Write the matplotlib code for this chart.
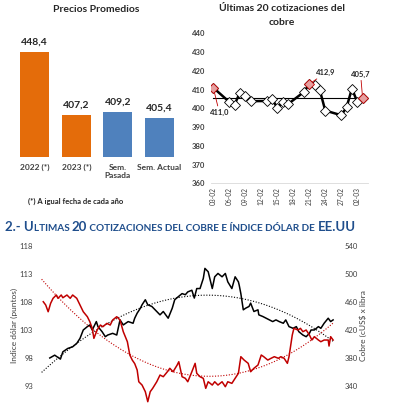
import numpy as np
import pandas as pd
import matplotlib
matplotlib.use('Agg')
import matplotlib.pyplot as plt
import matplotlib.dates as mdates

plt.rcParams['font.family'] = ['Lato', 'DejaVu Sans']

# --- Precios promedios (barras) ---
cat_barras = ['2022 (*)', '2023 (*)', 'Sem.\nPasada', 'Sem. Actual']
val_barras = [448.4, 407.2, 409.2, 405.4]
col_barras = ['#E46C0A', '#E46C0A', '#4F81BD', '#4F81BD']

# --- Últimas cotizaciones (2023) ---
fechas_cot = ['2023-02-03', '2023-02-06', '2023-02-07', '2023-02-08', '2023-02-09',
              '2023-02-10', '2023-02-13', '2023-02-14', '2023-02-15', '2023-02-16',
              '2023-02-17', '2023-02-20', '2023-02-21', '2023-02-22', '2023-02-23',
              '2023-02-24', '2023-02-27', '2023-02-28', '2023-03-01', '2023-03-02',
              '2023-03-03']
val_cot = [411.0, 403.4, 402.0, 408.4, 406.4, 403.8, 403.9, 405.2, 400.2, 403.1,
           402.2, 408.7, 412.9, 412.5, 409.5, 398.8, 396.3, 400.5, 410.5, 403.5,
           405.7]
promedio_cot = 405.6
marcados = [0, 12, 20]  # primero, máximo, último
ticks_cot = ['2023-02-03', '2023-02-06', '2023-02-09', '2023-02-12', '2023-02-15',
             '2023-02-18', '2023-02-21', '2023-02-24', '2023-02-27', '2023-03-02']

# --- Cobre e índice dólar (día desde inicio) ---
dia_dolar = [12, 18, 25, 28, 34, 40, 45, 49, 53, 58, 61, 64, 69, 71, 76, 80, 83, 89, 94,
             98, 102, 108, 114, 116, 119, 123, 125, 129, 132, 137, 143, 147, 151, 157,
             162, 165, 169, 174, 178, 181, 186, 189, 192, 196, 200, 202, 206, 211, 214,
             218, 223, 227, 230, 235, 239, 243, 244, 246, 249, 252, 256, 258, 262, 267,
             268, 273, 277, 281, 285, 289, 293, 298, 301, 305, 310, 314, 317, 322, 326,
             330, 332, 336, 341, 344, 348, 353, 356, 359]
dolar = [98.0, 98.5, 97.8, 99.1, 99.7, 100.0, 100.6, 101.5, 103.0, 103.6, 103.9, 103.0,
         104.5, 103.6, 102.7, 101.8, 102.1, 102.4, 102.1, 104.8, 103.9, 104.5, 104.2,
         105.1, 106.0, 106.9, 107.5, 108.4, 107.5, 107.2, 106.3, 105.7, 106.3, 105.1,
         106.9, 108.4, 108.9, 109.5, 109.3, 109.8, 110.1, 108.7, 110.4, 110.4, 112.2,
         114.0, 113.4, 110.4, 112.5, 113.1, 112.5, 113.1, 111.6, 110.4, 112.5, 111.6,
         111.0, 109.5, 106.6, 106.9, 107.2, 107.8, 106.3, 106.6, 105.7, 105.4, 105.1,
         104.8, 104.5, 104.8, 104.5, 104.2, 104.8, 103.6, 103.3, 103.6, 102.7, 102.1,
         101.8, 102.4, 103.0, 103.0, 103.6, 103.3, 104.2, 105.1, 104.5, 104.8]

dia_cobre = [4, 7, 10, 13, 16, 20, 22, 26, 28, 33, 37, 40, 45, 49, 53, 58, 61, 64, 66,
             70, 74, 77, 82, 86, 89, 94, 98, 102, 107, 110, 113, 116, 119, 121, 125, 129,
             132, 135, 138, 143, 147, 151, 156, 159, 163, 168, 170, 174, 178, 181, 186,
             190, 192, 196, 200, 203, 206, 211, 214, 218, 223, 227, 230, 235, 239, 243,
             246, 250, 255, 258, 262, 267, 271, 274, 279, 283, 287, 292, 295, 299, 303,
             305, 309, 311, 316, 319, 322, 326, 330, 333, 336, 341, 344, 348, 353, 354,
             356, 359]
cobre = [460.4, 455.7, 446.1, 458.1, 465.3, 470.0, 465.3, 470.0, 466.1, 470.0, 465.3,
         470.0, 465.3, 455.7, 446.1, 439.0, 431.9, 422.4, 408.1, 420.0, 427.1, 424.7,
         429.5, 427.1, 434.3, 439.0, 434.3, 417.6, 403.3, 384.3, 377.1, 372.0, 362.9,
         346.1, 341.4, 331.9, 317.6, 331.9, 336.7, 346.1, 355.7, 353.3, 360.4, 365.3,
         360.4, 370.0, 374.7, 353.3, 351.0, 346.1, 360.4, 372.4, 358.1, 353.3, 351.0,
         336.7, 346.1, 341.4, 346.1, 341.4, 346.1, 339.0, 346.1, 343.8, 351.0, 358.1,
         381.9, 377.1, 372.4, 360.4, 365.3, 370.0, 384.3, 381.9, 377.1, 379.6, 381.9,
         379.6, 381.9, 379.6, 372.4, 381.9, 412.9, 422.4, 420.0, 422.4, 417.6, 420.0,
         412.9, 405.7, 410.5, 405.7, 403.3, 405.7, 405.7, 397.1, 410.5, 405.7]

W, H = 396, 405
fig = plt.figure(figsize=(W / 100, H / 100), dpi=100)


def caja(x0, y0, x1, y1):
    # pixeles (origen arriba-izquierda) -> fracción de figura
    return [x0 / W, 1 - y1 / H, (x1 - x0) / W, (y1 - y0) / H]


gris = '#404040'
oscuro = '#262626'

# ---------------- barras ----------------
ax1 = fig.add_axes(caja(14, 40, 180, 157))
xb = np.arange(len(cat_barras))
ax1.bar(xb, [v - 380 for v in val_barras], bottom=380, width=0.7, color=col_barras)
for x, v in zip(xb, val_barras):
    ax1.text(x, v + 3.5, f'{v:.1f}'.replace('.', ','), ha='center', va='bottom',
             fontsize=7.5, fontweight='bold', color=oscuro)
ax1.set_xlim(-0.5, 3.5)
ax1.set_ylim(380, 456.5)
ax1.set_xticks(xb)
ax1.set_xticklabels(cat_barras, fontsize=6, fontweight='bold', color=gris)
ax1.tick_params(axis='x', length=0, pad=5)
ax1.set_yticks([])
for s in ax1.spines.values():
    s.set_visible(False)
ax1.axhline(380, color='#D9D9D9', lw=0.6)
fig.text(96 / W, 1 - 5 / H, 'Precios Promedios', ha='center', va='top',
         fontsize=7.5, fontweight='bold', color=oscuro)
fig.text(28 / W, 1 - 201 / H, '(*) A igual fecha de cada año', ha='left', va='center',
         fontsize=5.5, fontweight='bold', color=oscuro)

# ---------------- últimas cotizaciones ----------------
fch = pd.to_datetime(fechas_cot)
ax2 = fig.add_axes(caja(210.6, 33.3, 367.9, 183.3))
ax2.plot(fch, val_cot, color='black', lw=1.8, zorder=2)
ax2.plot([fch[0], fch[-1]], [promedio_cot, promedio_cot], color='black', lw=0.8, zorder=1)
ax2.plot(fch, val_cot, ls='none', marker='D', ms=4.8, mfc='white', mec='black', mew=0.6,
         zorder=3)
ax2.plot(fch[marcados], [val_cot[i] for i in marcados], ls='none', marker='D', ms=4.8,
         mfc='#E6A0A0', mec='#C00000', mew=0.6, zorder=4)
rojo_lbl = '#C00000'
flecha = dict(arrowstyle='-', color=rojo_lbl, lw=0.6, shrinkA=0, shrinkB=0)
ax2.annotate('411,0', xy=(fch[0], val_cot[0]), xytext=(6, -21), textcoords='offset pixels',
             fontsize=5.5, fontweight='bold', color=oscuro, ha='center', va='top',
             arrowprops=flecha)
ax2.annotate('412,9', xy=(fch[12], val_cot[12]), xytext=(7, 8), textcoords='offset pixels',
             fontsize=5.5, fontweight='bold', color=oscuro, ha='left', va='bottom',
             arrowprops=flecha)
ax2.annotate('405,7', xy=(fch[20], val_cot[20]), xytext=(-2, 20), textcoords='offset pixels',
             fontsize=5.5, fontweight='bold', color=oscuro, ha='center', va='bottom',
             arrowprops=flecha)
ax2.set_xlim(fch[0] - pd.Timedelta(hours=12), pd.Timestamp('2023-03-04'))
ax2.set_ylim(360, 440)
ax2.set_yticks(range(360, 441, 10))
ax2.set_xticks(pd.to_datetime(ticks_cot))
ax2.xaxis.set_major_formatter(mdates.DateFormatter('%d-%m'))
ax2.tick_params(axis='x', labelsize=4.8, rotation=90, length=0, pad=3, colors=gris)
ax2.tick_params(axis='y', labelsize=5.5, length=0, pad=4, colors=gris)
for lab in ax2.get_yticklabels():
    lab.set_fontweight('bold')
for k, s in ax2.spines.items():
    s.set_visible(k == 'bottom')
ax2.spines['bottom'].set_color('#D9D9D9')
ax2.spines['bottom'].set_linewidth(0.6)
fig.text(282 / W, 1 - 4 / H, 'Últimas 20 cotizaciones del\ncobre', ha='center', va='top',
         fontsize=7.5, fontweight='bold', color=oscuro, linespacing=1.75)

# ---------------- encabezado (versalitas) ----------------
azul = '#1F4E8C'
trozos = [('2.- U', 9.5), ('LTIMAS ', 7.2), ('20', 9.5),
          (' COTIZACIONES DEL COBRE E ÍNDICE DÓLAR DE ', 7.2), ('EE.UU', 9.5)]
ultimo = fig.text(5 / W, 1 - 233 / H, trozos[0][0], fontsize=trozos[0][1],
                  fontweight='bold', color=azul, ha='left', va='bottom')
for txt, fs in trozos[1:]:
    ultimo = fig.add_artist(plt.Annotation(txt, xy=(1, 0), xycoords=ultimo, xytext=(0, 0),
                                           textcoords='offset points', fontsize=fs,
                                           fontweight='bold', color=azul, ha='left',
                                           va='bottom', annotation_clip=False))

# ---------------- cobre vs dólar ----------------
ax3 = fig.add_axes(caja(40, 246, 338, 405))
ax3.plot(dia_dolar, dolar, color='black', lw=1.1, zorder=3)
xs = np.linspace(2, 360, 200)
coef_d = np.polyfit(dia_dolar, dolar, 3)
ax3.plot(xs, np.polyval(coef_d, xs), color='black', lw=0.8, ls=(0, (1, 1.5)), zorder=2)
ax3.set_xlim(0, 365)
ax3.set_ylim(89.6, 118)
ax3.set_yticks([93, 98, 103, 108, 113, 118])
ax3.set_xticks([])
ax3.tick_params(axis='y', labelsize=5.5, length=0, pad=5, colors=gris)
ax3.set_ylabel('Indice dólar (puntos)', fontsize=6, color=gris, labelpad=1)

ax4 = ax3.twinx()
ax4.plot(dia_cobre, cobre, color='#C00000', lw=1.1, zorder=3)
coef_c = np.polyfit(dia_cobre, cobre, 2)
ax4.plot(xs, np.polyval(coef_c, xs), color='#C00000', lw=0.8, ls=(0, (1, 1.5)), zorder=2)
ax4.set_ylim(312.9, 540)
ax4.set_yticks([340, 380, 420, 460, 500, 540])
ax4.tick_params(axis='y', labelsize=5.5, length=0, pad=5, colors=gris)
ax4.set_ylabel('Cobre (cUS$ x libra', fontsize=6, color=gris, labelpad=1)
for a in (ax3, ax4):
    for s in a.spines.values():
        s.set_visible(False)

fig.savefig('out.png', dpi=100)
